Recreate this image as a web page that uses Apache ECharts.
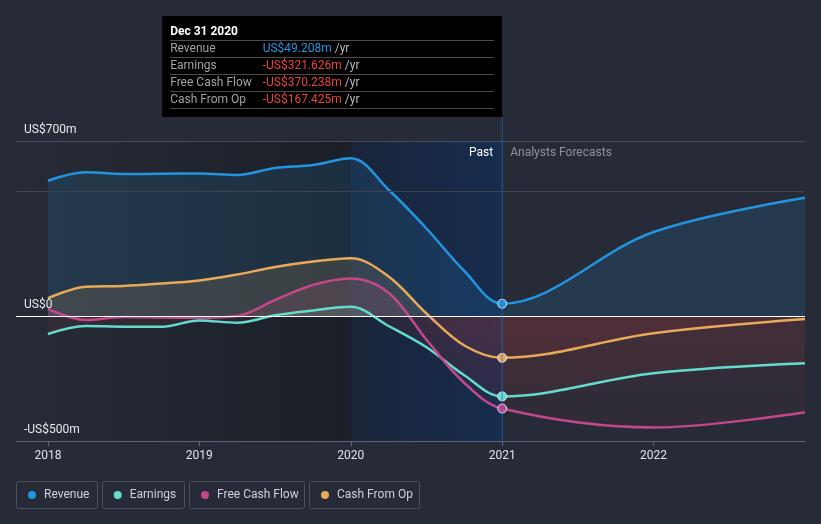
<!DOCTYPE html>
<html>
<head>
<meta charset="utf-8">
<script src="https://cdn.jsdelivr.net/npm/echarts@6/dist/echarts.min.js"></script>
<style>
html,body{margin:0;padding:0;background:#262b37;}
#chart{width:821px;height:524px;}
</style>
</head>
<body>
<div id="chart"></div>
<script>
// ---- data (US$ millions) ----
const xValues = [2018, 2018.25, 2018.5, 2018.75, 2019, 2019.25, 2019.5, 2019.75, 2020, 2020.25, 2020.5, 2020.75, 2021, 2022, 2023];
const revenue = [541, 575, 568, 569, 570, 564, 592, 604, 631, 505, 350, 180, 49.208, 336, 473];
const earnings = [-72, -40, -43, -43, -18, -27, 3, 22, 37, -40, -125, -237, -321.626, -229, -189];
const freeCashFlow = [28, -16, -4, -6, -7, 0, 64, 124, 150, 93, -95, -268, -370.238, -446, -385];
const cashFromOp = [71, 117, 120, 130, 142, 166, 196, 218, 231, 158, 10, -118, -167.425, -69, -12];
const seriesNames = ['Revenue', 'Earnings', 'Free Cash Flow', 'Cash From Op'];
const xTickLabels = [2018, 2019, 2020, 2021, 2022];
const yTickValues = [-500, 0, 700];
const yTickLabels = ['-US$500m', 'US$0', 'US$700m'];
const tooltipTitle = 'Dec 31 2020';
const pastBoundary = 2021;
const forecastShadeStart = 2020;

const colors = ['#2394df', '#64dccd', '#c4478a', '#e8aa58'];
const valueSets = [revenue, earnings, freeCashFlow, cashFromOp];
const idxMark = xValues.indexOf(pastBoundary);

const chart = echarts.init(document.getElementById('chart'));
const FONT = 'Roboto, "Noto Sans", sans-serif';
const xMin = 2017.789, xMax = 2023;

function rgba(hex, a) {
  const n = parseInt(hex.slice(1), 16);
  return `rgba(${(n>>16)&255},${(n>>8)&255},${n&255},${a})`;
}

function buildOption(yTopPx, yZeroPx, yBotPx) {
  const f0 = (yZeroPx - yTopPx) / (yBotPx - yTopPx);
  function areaGrad(color) {
    return new echarts.graphic.LinearGradient(0, yTopPx, 0, yBotPx, [
      {offset: 0, color: rgba(color, 0.2)},
      {offset: f0, color: rgba(color, 0.2)},
      {offset: f0, color: 'rgba(230,62,61,0.11)'},
      {offset: 1, color: 'rgba(230,62,61,0.06)'}
    ], true);
  }
  const dataSeries = seriesNames.map((name, s) => ({
    name, type: 'line', smooth: 0.35, symbol: 'none', z: 3,
    silent: true,
    data: xValues.map((x, i) => i === idxMark
      ? {value: [x, valueSets[s][i]], symbol: 'circle', symbolSize: 9,
         itemStyle: {color: colors[s], borderColor: '#e6e6ea', borderWidth: 1}}
      : [x, valueSets[s][i]]),
    lineStyle: {color: colors[s], width: 2.5},
    itemStyle: {color: colors[s]},
    areaStyle: {origin: 0, color: areaGrad(colors[s])}
  }));
  return {
    backgroundColor: '#262b37',
    animation: false,
    textStyle: {fontFamily: FONT},
    grid: {left: 16, right: 16, top: 141, bottom: 83, containLabel: false},
    xAxis: {
      type: 'value', min: xMin, max: xMax, z: 10,
      axisLine: {show: true, onZero: false, lineStyle: {color: '#5f6573', width: 1}},
      axisTick: {show: true, length: 5, lineStyle: {color: '#5f6573'}, customValues: xTickLabels},
      axisLabel: {color: '#e2e4e8', fontSize: 12, margin: 9, fontFamily: FONT,
        customValues: xTickLabels, formatter: v => String(Math.round(v))},
      splitLine: {show: false}
    },
    yAxis: {
      type: 'value', min: -500, max: 700, z: 10,
      axisLine: {show: false}, axisTick: {show: false}, splitLine: {show: false},
      axisLabel: {inside: true, margin: 8, color: '#e8eaee', fontSize: 12, fontFamily: FONT,
        verticalAlign: 'bottom', lineHeight: 14, padding: [0, 0, 4, 0],
        showMinLabel: true, showMaxLabel: true,
        customValues: yTickValues,
        formatter: v => yTickLabels[yTickValues.indexOf(Math.round(v))] || ''}
    },
    legend: seriesNames.map((name, s) => ({
      data: [name], left: [28, 113.7, 201, 321][s], top: 489, padding: 0,
      icon: 'circle', itemWidth: 8, itemHeight: 8,
      textStyle: {color: '#cfd2d8', fontSize: 12, fontFamily: FONT, padding: [0, 0, 0, 3]},
      selectedMode: false
    })),
    series: [
      {
        type: 'line', name: '_shade', data: [[xMin, 0]], symbol: 'none', z: 1, silent: true,
        lineStyle: {opacity: 0},
        markArea: {silent: true, data: [
          [{xAxis: xMin, itemStyle: {color: new echarts.graphic.LinearGradient(0, 0, 1, 0, [
              {offset: 0, color: '#262b37'}, {offset: 1, color: '#1b1f27'}])}}, {xAxis: forecastShadeStart}],
          [{xAxis: forecastShadeStart, itemStyle: {color: new echarts.graphic.LinearGradient(0, 0, 1, 0, [
              {offset: 0, color: '#1a2439'}, {offset: 1, color: '#162c4e'}])}}, {xAxis: pastBoundary}]
        ]}
      },
      {
        type: 'line', name: '_grid', data: [[xMin, 0]], symbol: 'none', z: 2, silent: true,
        lineStyle: {opacity: 0},
        markLine: {silent: true, symbol: 'none', label: {show: false}, animation: false,
          data: [
            {yAxis: 700, lineStyle: {color: '#454b58', width: 1, type: 'solid'}},
            {yAxis: 500, lineStyle: {color: '#3d4350', width: 1, type: 'solid'}},
            {yAxis: 0, lineStyle: {color: '#ffffff', width: 1.2, type: 'solid'}}
          ]}
      },
      ...dataSeries
    ]
  };
}

// first pass with estimated pixel positions, then refine using the axis scales
chart.setOption(buildOption(141, 316, 441));
const yTopPx = chart.convertToPixel({yAxisIndex: 0}, 700);
const yZeroPx = chart.convertToPixel({yAxisIndex: 0}, 0);
const yBotPx = chart.convertToPixel({yAxisIndex: 0}, -500);
const opt = buildOption(yTopPx, yZeroPx, yBotPx);

const xLine = chart.convertToPixel({xAxisIndex: 0}, pastBoundary);
const boxW = 340, boxTop = 16, boxBottom = 117;
const boxLeft = xLine - boxW;

function fmt(v) {
  return (v < 0 ? '-' : '') + 'US$' + Math.abs(v).toFixed(3) + 'm';
}
const graphics = [];
// vertical "now" line
graphics.push({type: 'line', z: 50, shape: {x1: xLine, y1: boxBottom, x2: xLine, y2: yBotPx},
  style: {stroke: 'rgba(40,110,200,0.45)', lineWidth: 1.5}, silent: true});
// Past / Analysts Forecasts labels
graphics.push({type: 'text', z: 50, x: xLine - 9, y: yTopPx + 12, style: {text: 'Past', fill: '#ffffff',
  font: '12px ' + FONT, align: 'right', verticalAlign: 'middle'}});
graphics.push({type: 'text', z: 50, x: xLine + 8, y: yTopPx + 12, style: {text: 'Analysts Forecasts', fill: '#8d939e',
  font: '12px ' + FONT, align: 'left', verticalAlign: 'middle'}});
// tooltip box
graphics.push({type: 'rect', z: 60, shape: {x: boxLeft, y: boxTop, width: boxW, height: boxBottom - boxTop},
  style: {fill: '#000000'}});
graphics.push({type: 'text', z: 61, x: boxLeft + 8, y: 31.5, style: {text: tooltipTitle, fill: '#ffffff',
  font: 'bold 12px ' + FONT, verticalAlign: 'middle'}});
for (let r = 0; r < 5; r++) {
  const ly = 40.5 + r * 17;
  graphics.push({type: 'line', z: 61, shape: {x1: boxLeft + 8, y1: ly, x2: xLine - 8, y2: ly},
    style: {stroke: '#4a4a4a', lineWidth: 1}});
}
seriesNames.forEach((name, s) => {
  const cy = 49.3 + s * 17;
  const v = valueSets[s][idxMark];
  const vc = v < 0 ? '#e8443f' : '#2394df';
  graphics.push({type: 'text', z: 61, x: boxLeft + 8, y: cy, style: {text: name, fill: '#9ea1a6',
    font: '12px ' + FONT, verticalAlign: 'middle'}});
  graphics.push({type: 'text', z: 61, x: boxLeft + 100.5, y: cy, style: {
    text: '{v|' + fmt(v) + '} {u|/yr}', verticalAlign: 'middle', font: '12px ' + FONT,
    rich: {v: {fill: vc, font: '12px ' + FONT}, u: {fill: '#b8babf', font: '12px ' + FONT}}}});
});
// legend boxes
const boxes = [[16.5, 81], [102.5, 82], [189.5, 115], [309.5, 110]];
boxes.forEach(b => graphics.push({type: 'rect', z: 40, shape: {x: b[0], y: 481.5, width: b[1], height: 27, r: 2},
  style: {fill: 'none', stroke: '#4b515d', lineWidth: 1}, silent: true}));
opt.graphic = graphics;
chart.setOption(opt, true);
</script>
</body>
</html>
